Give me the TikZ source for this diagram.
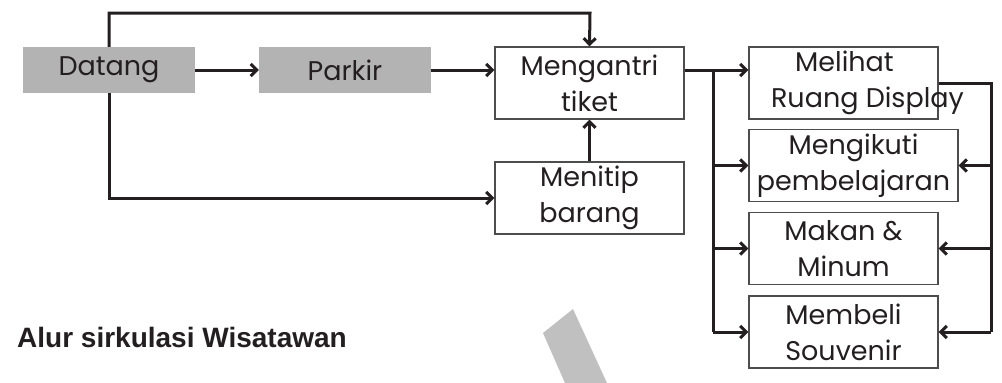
\documentclass[tikz,border=0pt]{standalone}
\usepackage{fontspec}
\setmainfont{Poppins}
\newfontfamily\captionfont{Liberation Sans}
\usetikzlibrary{arrows.meta,calc}
\definecolor{ink}{HTML}{231F20}
\definecolor{boxgray}{HTML}{B3B3B3}
\definecolor{stripegray}{HTML}{C0C0C0}
\begin{document}
\begin{tikzpicture}
[x=1pt,y=-1pt,
 every node/.style={font=\fontsize{27}{36}\selectfont, text=ink, inner sep=0pt, align=center},
 greybox/.style={fill=boxgray, minimum width=172pt, minimum height=46pt},
 whitebox/.style={draw=ink!80, line width=1.3pt, minimum width=189pt, minimum height=72pt},
 arr/.style={draw=ink, line width=3pt, -{Straight Barb[length=6pt,width=12pt]}},
 rail/.style={draw=ink, line width=3pt}]
\useasboundingbox (0,0) rectangle (1002,383);
% watermark stripe
\fill[stripegray] (543,333) -- (573,309) -- (607,383) -- (565,383) -- cycle;
% nodes
\node[greybox] (datang) at (109,70) {Datang};
\node[greybox] (parkir) at (345,70) {Parkir};
\node[whitebox] (mengantri) at (589.5,83) {Mengantri\\tiket};
\node[whitebox] (menitip) at (589.5,198) {Menitip\\barang};
\node[whitebox] (melihat) at (843.5,83) {};
\node at ($(melihat)+(24,0)$) {Melihat\hspace*{46pt}\\Ruang Display};
\node[whitebox, minimum width=209pt] (mengikuti) at (853.5,165.5) {Mengikuti\\pembelajaran};
\node[whitebox] (makan) at (843.5,248.5) {Makan \&\\Minum};
\node[whitebox] (membeli) at (843.5,332) {Membeli\\Souvenir};
\node[anchor=base west, font=\captionfont\bfseries\fontsize{28}{32}\selectfont] (judul) at (17,347) {Alur sirkulasi Wisatawan};
% junctions
\coordinate (toprail) at (590,13);
\coordinate (split) at (713,70);
\coordinate (merge) at (991,83);
% connectors
\draw[arr] (datang) -- (parkir);
\draw[arr] (parkir.east) -- (parkir.east -| mengantri.west);
\draw[arr] (datang.north) |- (toprail) -- (mengantri.north);
\draw[arr] (datang.south) |- (menitip.west);
\draw[arr] (menitip) -- (mengantri);
\draw[arr] (parkir.east -| mengantri.east) -- (parkir.east -| melihat.west);
\draw[rail] (split) -- (split |- membeli.west);
\draw[arr] (split |- mengikuti.west) -- (mengikuti.west);
\draw[arr] (split |- makan.west) -- (makan.west);
\draw[arr] (split |- membeli.west) -- (membeli.west);
\draw[rail] (melihat.east) -- (merge) -- (merge |- membeli.east);
\draw[arr] (merge |- mengikuti.east) -- (mengikuti.east);
\draw[arr] (merge |- makan.east) -- (makan.east);
\draw[arr] (merge |- membeli.east) -- (membeli.east);
\end{tikzpicture}
\end{document}
